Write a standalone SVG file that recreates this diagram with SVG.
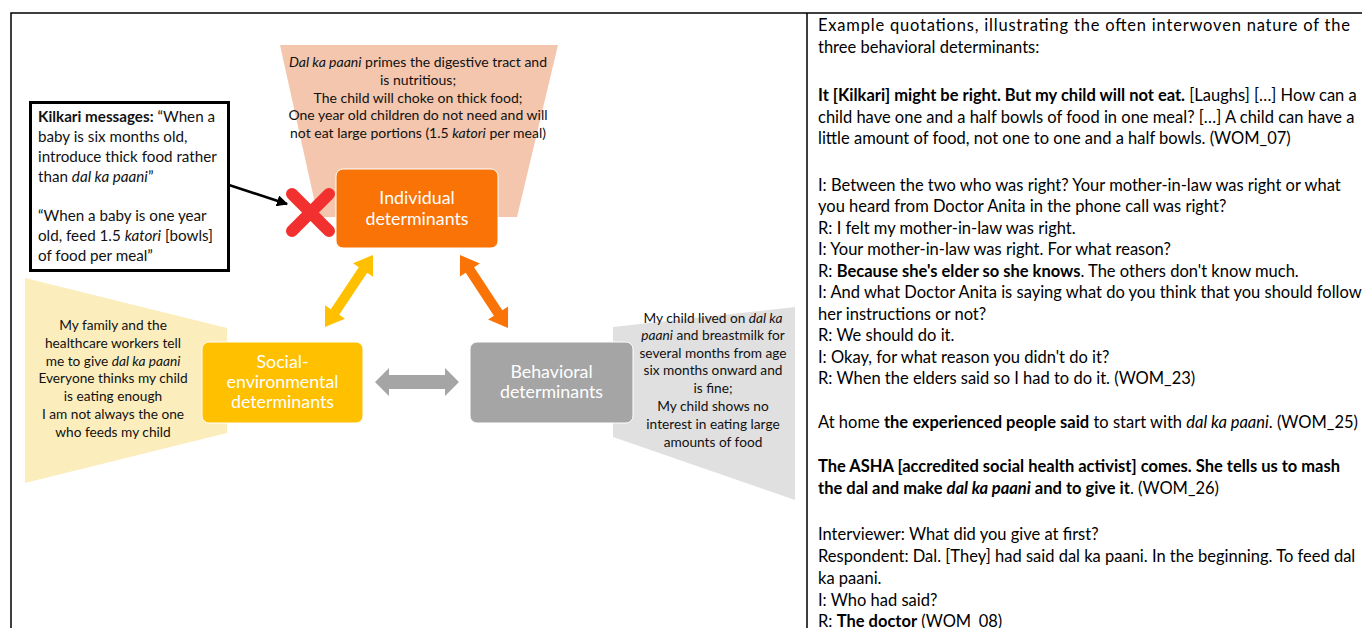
<svg xmlns="http://www.w3.org/2000/svg" width="1362" height="628" viewBox="0 0 1362 628">
<defs>
<style>
.t{font-family:Lato,"Liberation Sans",sans-serif;fill:#111}
.q{font-family:Lato,"Liberation Sans",sans-serif;font-size:16.5px;fill:#000}
.box{font-family:Lato,"Liberation Sans",sans-serif;font-size:17.8px;fill:#fff;text-anchor:middle}
.s{font-size:13.7px;text-anchor:middle}
.p{font-size:14px;text-anchor:middle}
.k{font-size:15.2px}
.b{font-weight:bold}
.i{font-style:italic}
</style>
<marker id="ah" viewBox="0 0 10 10" refX="9" refY="5" markerWidth="4.5" markerHeight="4.5" orient="auto" markerUnits="strokeWidth">
<path d="M0,0 L10,5 L0,10 z" fill="#000"/>
</marker>
</defs>
<rect width="1362" height="628" fill="#fff"/>
<path d="M11,640 V13 H1370 M807,13 V640" fill="none" stroke="#000" stroke-width="1.5"/>

<g id="individual-quotes">
<polygon points="280,45 558,45 517,217 318,217" fill="#F3C6AD"/>
<text class="t p" x="418" y="67"><tspan class="i">Dal ka paani</tspan> primes the digestive tract and</text>
<text class="t p" x="418" y="85">is nutritious;</text>
<text class="t p" x="418" y="103">The child will choke on thick food;</text>
<text class="t p" x="418" y="120">One year old children do not need and will</text>
<text class="t p" x="418" y="138">not eat large portions (1.5 <tspan class="i">katori</tspan> per meal)</text>
</g>

<g id="social-quotes">
<polygon points="25,278 227,328 227,433 25,483" fill="#FCEDBD"/>
<text class="t s" x="113" y="330">My family and the</text>
<text class="t s" x="113" y="348">healthcare workers tell</text>
<text class="t s" x="113" y="366">me to give <tspan class="i">dal ka paani</tspan></text>
<text class="t s" x="113" y="383">Everyone thinks my child</text>
<text class="t s" x="113" y="401">is eating enough</text>
<text class="t s" x="113" y="419">I am not always the one</text>
<text class="t s" x="113" y="437">who feeds my child</text>
</g>

<g id="behavioral-quotes">
<polygon points="613,327 795,307 795,500 613,437" fill="#E0E0E0"/>
<text class="t s" x="713" y="323">My child lived on <tspan class="i">dal ka</tspan></text>
<text class="t s" x="713" y="340"><tspan class="i">paani</tspan> and breastmilk for</text>
<text class="t s" x="713" y="358">several months from age</text>
<text class="t s" x="713" y="375">six months onward and</text>
<text class="t s" x="713" y="393">is fine;</text>
<text class="t s" x="713" y="411">My child shows no</text>
<text class="t s" x="713" y="429">interest in eating large</text>
<text class="t s" x="713" y="447">amounts of food</text>
</g>

<g id="individual">
<rect x="336" y="169" width="162" height="79" rx="7" fill="#F97306" stroke="#fff" stroke-width="1"/>
<text class="box" x="417" y="204">Individual</text>
<text class="box" x="417" y="225">determinants</text>
</g>

<g id="social">
<rect x="202" y="342" width="161" height="81" rx="7" fill="#FFC000" stroke="#fff" stroke-width="1"/>
<text class="box" x="282.5" y="368">Social-</text>
<text class="box" x="282.5" y="388">environmental</text>
<text class="box" x="282.5" y="408">determinants</text>
</g>

<g id="behavioral">
<rect x="470" y="342" width="163" height="81" rx="7" fill="#A5A5A5" stroke="#fff" stroke-width="1"/>
<text class="box" x="551.5" y="378">Behavioral</text>
<text class="box" x="551.5" y="398">determinants</text>
</g>

<g id="kilkari">
<rect x="30.5" y="102.5" width="198" height="168" fill="#fff" stroke="#000" stroke-width="3"/>
<text class="t k" x="38" y="122"><tspan class="b">Kilkari messages:</tspan> “When a</text>
<text class="t k" x="38" y="142">baby is six months old,</text>
<text class="t k" x="38" y="162">introduce thick food rather</text>
<text class="t k" x="38" y="182">than <tspan class="i">dal ka paani</tspan>”</text>
<text class="t k" x="38" y="221">“When a baby is one year</text>
<text class="t k" x="38" y="241">old, feed 1.5 <tspan class="i">katori</tspan> [bowls]</text>
<text class="t k" x="38" y="261">of food per meal”</text>
</g>

<g id="cross">
<path d="M292,194 L329,231 M329,194 L292,231" stroke="#F23030" stroke-width="12" stroke-linecap="round"/>
</g>

<g id="connectors">
<line x1="229" y1="185" x2="287" y2="204" stroke="#000" stroke-width="2.5" marker-end="url(#ah)"/>
<polygon points="373,255 373,276.7 367.2,272.8 339.2,314.8 345,318.7 325,327 325,305.3 330.8,309.2 358.8,267.2 353,263.3" fill="#FFC000"/>
<polygon points="460,255 479.9,263.4 474.1,267.3 502.3,310.2 508.1,306.4 508,328 488.1,319.6 493.9,315.8 465.7,272.8 459.9,276.6" fill="#F97306"/>
<polygon points="375,382 389,368 389,375 445,375 445,368 459,382 445,396 445,389 389,389 389,396" fill="#A5A5A5"/>
</g>

<g id="quotations">
<text class="q" x="818" y="31" textLength="532" lengthAdjust="spacing">Example quotations, illustrating the often interwoven nature of the</text>
<text class="q" x="818" y="53">three behavioral determinants:</text>
<text class="q" x="818" y="100.5"><tspan class="b">It [Kilkari] might be right. But my child will not eat.</tspan> [Laughs] […] How can a</text>
<text class="q" x="818" y="122.5">child have one and a half bowls of food in one meal? […] A child can have a</text>
<text class="q" x="818" y="144">little amount of food, not one to one and a half bowls. (WOM_07)</text>
<text class="q" x="818" y="190.5">I: Between the two who was right? Your mother-in-law was right or what</text>
<text class="q" x="818" y="212">you heard from Doctor Anita in the phone call was right?</text>
<text class="q" x="818" y="233.5">R: I felt my mother-in-law was right.</text>
<text class="q" x="818" y="255">I: Your mother-in-law was right. For what reason?</text>
<text class="q" x="818" y="276.5">R: <tspan class="b">Because she's elder so she knows</tspan>. The others don't know much.</text>
<text class="q" x="818" y="298">I: And what Doctor Anita is saying what do you think that you should follow</text>
<text class="q" x="818" y="319.5">her instructions or not?</text>
<text class="q" x="818" y="341">R: We should do it.</text>
<text class="q" x="818" y="362.5">I: Okay, for what reason you didn't do it?</text>
<text class="q" x="818" y="384">R: When the elders said so I had to do it. (WOM_23)</text>
<text class="q" x="818" y="427.5">At home <tspan class="b">the experienced people said</tspan> to start with <tspan class="i">dal ka paani</tspan>. (WOM_25)</text>
<text class="q" x="818" y="471.5"><tspan class="b">The ASHA [accredited social health activist] comes. She tells us to mash</tspan></text>
<text class="q" x="818" y="493.5"><tspan class="b">the dal and make <tspan class="i">dal ka paani</tspan> and to give it</tspan>. (WOM_26)</text>
<text class="q" x="818" y="539.5">Interviewer: What did you give at first?</text>
<text class="q" x="818" y="561.5">Respondent: Dal. [They] had said dal ka paani. In the beginning. To feed dal</text>
<text class="q" x="818" y="583.5">ka paani.</text>
<text class="q" x="818" y="605.5">I: Who had said?</text>
<text class="q" x="818" y="627">R: <tspan class="b">The doctor</tspan> (WOM_08)</text>
</g>
</svg>
